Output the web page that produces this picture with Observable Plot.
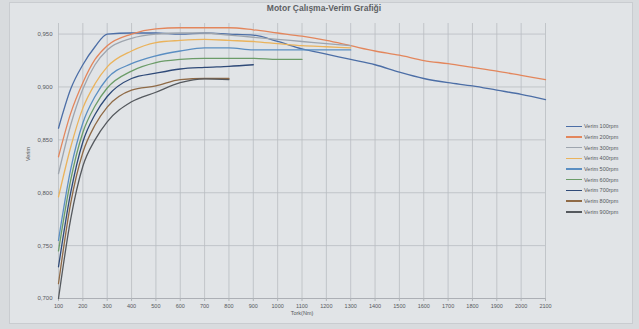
<!DOCTYPE html>
<html>
<head>
<meta charset="utf-8">
<script src="https://cdn.jsdelivr.net/npm/d3@7"></script>
<script src="https://cdn.jsdelivr.net/npm/@observablehq/plot@0.6"></script>
<style>
  html, body { margin: 0; padding: 0; background: #d8dbde; }
  #wrap { position: relative; width: 639px; height: 329px; overflow: hidden; font-family: "Liberation Sans", Arial, sans-serif; }
  #area { position: absolute; left: 9px; top: 2px; width: 624px; height: 322px; background: #e1e4e7; border: 1px solid #c9ccd0; box-sizing: border-box; }
  #chart { position: absolute; left: 0; top: 0; }
  #title { position: absolute; left: 0; width: 648px; top: 3px; text-align: center; font-size: 8.5px; font-weight: bold; color: #5e6165; }
  #legend { position: absolute; left: 566px; top: 121px; font-size: 5.5px; color: #55585c; }
  .row { height: 10.7px; display: flex; align-items: center; }
  .sw { width: 16px; height: 1.4px; margin-right: 2px; }
</style>
</head>
<body>
<div id="wrap">
  <div id="area"></div>
  <div id="chart"></div>
  <div id="title">Motor Çalışma-Verim Grafiği</div>
  <div id="legend"></div>
</div>
<script>
const torque = [100,150,200,250,300,400,500,600,700,800,900,1000,1100,1200,1300,1400,1500,1600,1700,1800,1900,2000,2100];
const xTicks = [100,200,300,400,500,600,700,800,900,1000,1100,1200,1300,1400,1500,1600,1700,1800,1900,2000,2100];
const yTicks = [0.70,0.75,0.80,0.85,0.90,0.95];
const names = ["Verim 100rpm","Verim 200rpm","Verim 300rpm","Verim 400rpm","Verim 500rpm","Verim 600rpm","Verim 700rpm","Verim 800rpm","Verim 900rpm"];
const colors = ["#4c6ea6","#e3865c","#9ea5ae","#eab35c","#5a8ec2","#6b9c68","#2f4a78","#8f6a46","#55595e"];

const verim100 = [0.861,0.898,0.921,0.938,0.950,0.951,0.951,0.950,0.951,0.950,0.949,0.943,0.936,0.931,0.926,0.921,0.914,0.908,0.904,0.901,0.897,0.893,0.888];
const verim200 = [0.834,0.875,0.904,0.926,0.939,0.950,0.955,0.956,0.956,0.956,0.954,0.951,0.948,0.944,0.939,0.934,0.930,0.925,0.922,0.9185,0.915,0.911,0.907];
const verim300 = [0.818,0.864,0.898,0.921,0.935,0.946,0.950,0.951,0.951,0.949,0.947,0.945,0.943,0.941,0.939];
const verim400 = [0.796,0.843,0.880,0.903,0.919,0.934,0.942,0.944,0.945,0.944,0.943,0.941,0.939,0.938,0.937];
const verim500 = [0.755,0.822,0.866,0.891,0.908,0.922,0.9295,0.934,0.937,0.937,0.935,0.935,0.935,0.935,0.935];
const verim600 = [0.745,0.812,0.857,0.882,0.899,0.915,0.923,0.926,0.927,0.927,0.927,0.926,0.926];
const verim700 = [0.730,0.800,0.848,0.874,0.891,0.908,0.913,0.917,0.9185,0.9195,0.921];
const verim800 = [0.714,0.790,0.838,0.864,0.881,0.897,0.901,0.907,0.908,0.908];
const verim900 = [0.700,0.775,0.825,0.850,0.867,0.886,0.895,0.904,0.9076,0.907];

const series = [verim100,verim200,verim300,verim400,verim500,verim600,verim700,verim800,verim900];
const data = series.flatMap((vals, i) => vals.map((v, j) => ({x: torque[j], y: v, s: names[i]})));

const fmt = d => d3.format(".3f")(d).replace(".", ",");

const chart = Plot.plot({
  width: 639,
  height: 329,
  marginLeft: 58,
  marginRight: 94,
  marginTop: 23,
  marginBottom: 31,
  style: {background: "transparent", fontFamily: "Liberation Sans, Arial, sans-serif"},
  x: {domain: [100, 2100]},
  y: {domain: [0.70, 0.96]},
  color: {domain: names, range: colors},
  marks: [
    Plot.gridX(xTicks, {stroke: "#b9bdc1", strokeOpacity: 1, strokeWidth: 0.8, y1: 0.70, y2: 0.96}),
    Plot.gridY(yTicks, {stroke: "#b9bdc1", strokeOpacity: 1, strokeWidth: 0.8}),
    Plot.ruleY([0.70], {stroke: "#a9adb2", strokeWidth: 0.9}),
    Plot.axisX(xTicks, {tickSize: 3, stroke: "#b0b4b8", fontSize: 5.5, fill: "#55585c", tickPadding: 3, tickFormat: d => String(d), label: null}),
    Plot.axisY(yTicks, {tickSize: 0, tickFormat: fmt, fontSize: 6, fill: "#55585c", tickPadding: 6, label: null}),
    Plot.line(data, {x: "x", y: "y", z: "s", stroke: "s", strokeWidth: 1.3, curve: "monotone-x"}),
    Plot.text(["Tork(Nm)"], {frameAnchor: "bottom", dy: 16, fontSize: 5.5, fill: "#55585c"}),
    Plot.text(["Verim"], {frameAnchor: "left", dx: -30, rotate: -90, fontSize: 5.5, fill: "#55585c"})
  ]
});
document.getElementById("chart").appendChild(chart);

const legend = document.getElementById("legend");
names.forEach((n, i) => {
  const row = document.createElement("div");
  row.className = "row";
  const sw = document.createElement("div");
  sw.className = "sw";
  sw.style.background = colors[i];
  const t = document.createElement("span");
  t.textContent = n;
  row.appendChild(sw);
  row.appendChild(t);
  legend.appendChild(row);
});
</script>
</body>
</html>
